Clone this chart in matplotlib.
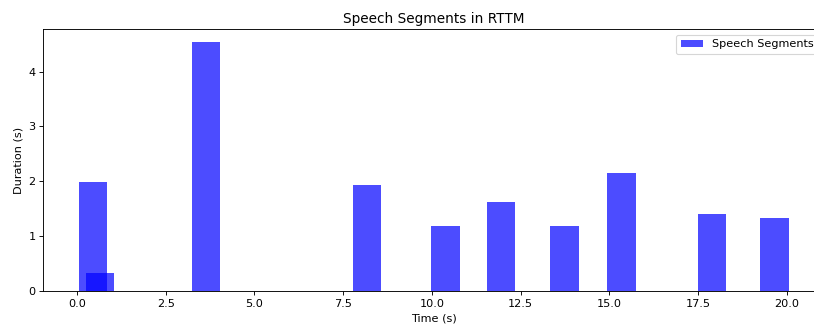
import matplotlib
matplotlib.use("Agg")
import matplotlib.pyplot as plt

# Segment start times (s) and durations (s)
starts = [0.45, 0.65, 3.64, 8.18, 10.38, 11.95, 13.74, 15.35, 17.90, 19.66]
durations = [1.98, 0.33, 4.545, 1.94, 1.18, 1.63, 1.18, 2.16, 1.40, 1.34]

W, H, DPI = 814, 327, 81.4
fig = plt.figure(figsize=(W / DPI, H / DPI), dpi=DPI)
left, right, top, bottom = 43.3, 824.3, 29.3, 291.0
ax = fig.add_axes([left / W, (H - bottom) / H, (right - left) / W, (bottom - top) / H])

ax.bar(starts, durations, width=0.8, color="blue", alpha=0.7, label="Speech Segments")
ax.set_title("Speech Segments in RTTM", fontsize=12)
ax.set_xlabel("Time (s)")
ax.set_ylabel("Duration (s)")
ax.legend(loc="upper right")

fig.savefig("out.png", dpi=DPI)
